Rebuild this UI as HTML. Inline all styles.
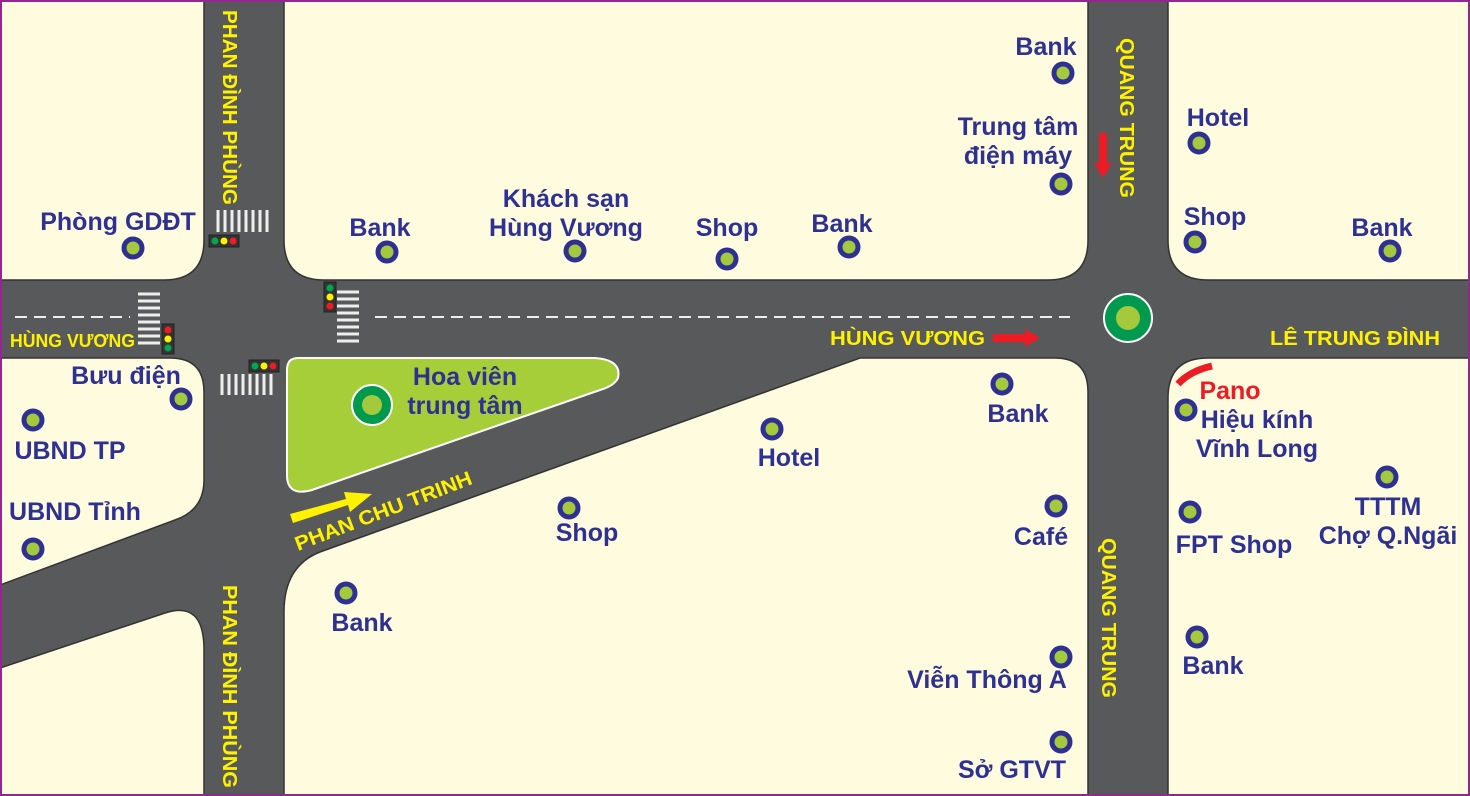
<!DOCTYPE html>
<html><head><meta charset="utf-8"><style>
html,body{margin:0;padding:0;background:#fefbdf;}
svg{display:block}
.t{font-family:"Liberation Sans",sans-serif;font-weight:bold;fill:#2e3192;font-size:25px;text-anchor:middle}
.y{font-family:"Liberation Sans",sans-serif;font-weight:bold;fill:#fff200;font-size:20px}
</style></head><body>
<svg width="1470" height="796" viewBox="0 0 1470 796" xmlns="http://www.w3.org/2000/svg">
<defs>
<g id="m"><circle r="9" fill="#a4c93c" stroke="#2e3192" stroke-width="5"/></g>
<g id="tlh"><rect x="-15" y="-6" width="30" height="12" fill="#333" stroke="#222"/><circle cx="-9" r="3.5" fill="#00a651"/><circle r="3.5" fill="#fff200"/><circle cx="9" r="3.5" fill="#ed1c24"/></g>
<g id="tlv"><rect x="-6" y="-15" width="12" height="30" fill="#333" stroke="#222"/><circle cy="-9" r="3.5" fill="#00a651"/><circle r="3.5" fill="#fff200"/><circle cy="9" r="3.5" fill="#ed1c24"/></g>
</defs>
<rect width="1470" height="796" fill="#58595b"/>
<g fill="#fefbdf" stroke="#333" stroke-width="1.5">
<path d="M0,0 H204 V240 Q204,280 164,280 H0 Z"/>
<path d="M284,0 H1088 V240 Q1088,280 1048,280 H324 Q284,280 284,240 Z"/>
<path d="M1168,0 H1470 V280 H1208 Q1168,280 1168,240 Z"/>
<path d="M0,358 H170 Q204,358 204,392 V480 Q204,510 175,520 L0,585 Z"/>
<path d="M0,668 L165,613 Q204,600 204,650 V796 H0 Z"/>
<path d="M860,358 H1055 Q1088,358 1088,392 V796 H284 V612 Q284,566 320,552 Z"/>
<path d="M1208,358 H1470 V796 H1168 V398 Q1168,358 1208,358 Z"/>
</g>
<path d="M298,358 H595 Q622,360 618,378 Q614,386 600,390 L312,490 Q287,497 287,475 V370 Q287,358 298,358 Z" fill="#a6ce39" stroke="#fff" stroke-width="2"/>
<g stroke="#eee" stroke-width="2" stroke-dasharray="12,7"><line x1="15" y1="317" x2="130" y2="317"/><line x1="375" y1="317" x2="1070" y2="317"/></g>
<g stroke="#eee" stroke-width="3">
<path d="M138,294H160M138,301H160M138,308H160M138,315H160M138,322H160M138,329H160M138,336H160M138,343H160"/>
<path d="M337,292H359M337,299H359M337,306H359M337,313H359M337,320H359M337,327H359M337,334H359M337,341H359"/>
<path d="M218,210V232M225,210V232M232,210V232M239,210V232M246,210V232M253,210V232M260,210V232M267,210V232"/>
<path d="M222,374V395M229,374V395M236,374V395M243,374V395M250,374V395M257,374V395M264,374V395M271,374V395"/>
</g>
<use href="#tlh" x="224" y="241"/>
<use href="#tlh" x="264" y="366"/>
<use href="#tlv" x="330" y="297"/>
<g transform="translate(168,339) rotate(180)"><use href="#tlv"/></g>
<circle cx="1128" cy="318" r="24" fill="#009a4e" stroke="#fff" stroke-width="2"/>
<circle cx="1128" cy="318" r="12" fill="#a4c93c"/>
<circle cx="372" cy="405" r="20" fill="#009a4e" stroke="#fff" stroke-width="2"/>
<circle cx="372" cy="405" r="10" fill="#a4c93c"/>
<text class="y" transform="translate(223,10) rotate(90)" textLength="195" lengthAdjust="spacingAndGlyphs">PHAN ĐÌNH PHÙNG</text>
<text class="y" transform="translate(223,585) rotate(90)" textLength="203" lengthAdjust="spacingAndGlyphs">PHAN ĐÌNH PHÙNG</text>
<text class="y" transform="translate(1120,38) rotate(90)" textLength="160" lengthAdjust="spacingAndGlyphs">QUANG TRUNG</text>
<text class="y" transform="translate(1102,538) rotate(90)" textLength="160" lengthAdjust="spacingAndGlyphs">QUANG TRUNG</text>
<text class="y" x="10" y="347" style="font-size:18px" textLength="125" lengthAdjust="spacingAndGlyphs">HÙNG VƯƠNG</text>
<text class="y" x="830" y="345" textLength="155" lengthAdjust="spacingAndGlyphs">HÙNG VƯƠNG</text>
<text class="y" x="1270" y="345" textLength="170" lengthAdjust="spacingAndGlyphs">LÊ TRUNG ĐÌNH</text>
<text class="y" transform="translate(298,551) rotate(-21)" textLength="188" lengthAdjust="spacingAndGlyphs">PHAN CHU TRINH</text>
<polygon points="290,514 346,499 344,492 372,494 350,512 348,505 293,523" fill="#fff200"/>
<polygon points="993,334 1025,334 1025,329 1040,338 1025,347 1025,342 993,342" fill="#ed1c24"/>
<polygon points="1099,133 1107,133 1107,163 1112,163 1103,178 1094,163 1099,163" fill="#ed1c24"/>
<path d="M1178,384 Q1190,371 1212,366" stroke="#ed1c24" stroke-width="7" fill="none"/>
<use href="#m" x="133" y="248"/><use href="#m" x="181" y="399"/><use href="#m" x="33" y="420"/><use href="#m" x="33" y="549"/>
<use href="#m" x="387" y="252"/><use href="#m" x="575" y="251"/><use href="#m" x="727" y="259"/><use href="#m" x="849" y="247"/>
<use href="#m" x="1063" y="73"/><use href="#m" x="1061" y="184"/><use href="#m" x="1199" y="143"/><use href="#m" x="1195" y="242"/><use href="#m" x="1390" y="251"/>
<use href="#m" x="1002" y="384"/><use href="#m" x="772" y="429"/><use href="#m" x="569" y="508"/><use href="#m" x="1056" y="506"/><use href="#m" x="346" y="593"/>
<use href="#m" x="1061" y="657"/><use href="#m" x="1061" y="742"/><use href="#m" x="1186" y="410"/><use href="#m" x="1387" y="477"/><use href="#m" x="1190" y="512"/><use href="#m" x="1197" y="637"/>
<text class="t" x="118" y="230">Phòng GDĐT</text>
<text class="t" x="126" y="384">Bưu điện</text>
<text class="t" x="70" y="459">UBND TP</text>
<text class="t" x="75" y="520">UBND Tỉnh</text>
<text class="t" x="380" y="236">Bank</text>
<text class="t" x="566" y="207">Khách sạn</text><text class="t" x="566" y="236">Hùng Vương</text>
<text class="t" x="727" y="236">Shop</text>
<text class="t" x="842" y="232">Bank</text>
<text class="t" x="1046" y="55">Bank</text>
<text class="t" x="1018" y="135">Trung tâm</text><text class="t" x="1018" y="164">điện máy</text>
<text class="t" x="1218" y="126">Hotel</text>
<text class="t" x="1215" y="225">Shop</text>
<text class="t" x="1382" y="236">Bank</text>
<text class="t" x="465" y="385">Hoa viên</text><text class="t" x="465" y="414">trung tâm</text>
<text class="t" x="1018" y="422">Bank</text>
<text class="t" x="789" y="466">Hotel</text>
<text class="t" x="587" y="541">Shop</text>
<text class="t" x="1041" y="545">Café</text>
<text class="t" x="362" y="631">Bank</text>
<text class="t" x="987" y="688">Viễn Thông A</text>
<text class="t" x="1012" y="778">Sở GTVT</text>
<text class="t" x="1230" y="399" style="fill:#ed1c24">Pano</text>
<text class="t" x="1257" y="428">Hiệu kính</text><text class="t" x="1257" y="457">Vĩnh Long</text>
<text class="t" x="1388" y="515">TTTM</text><text class="t" x="1388" y="544">Chợ Q.Ngãi</text>
<text class="t" x="1234" y="553">FPT Shop</text>
<text class="t" x="1213" y="674">Bank</text>
<rect x="1" y="1" width="1468" height="794" fill="none" stroke="#92278f" stroke-width="2"/>
</svg>
</body></html>
